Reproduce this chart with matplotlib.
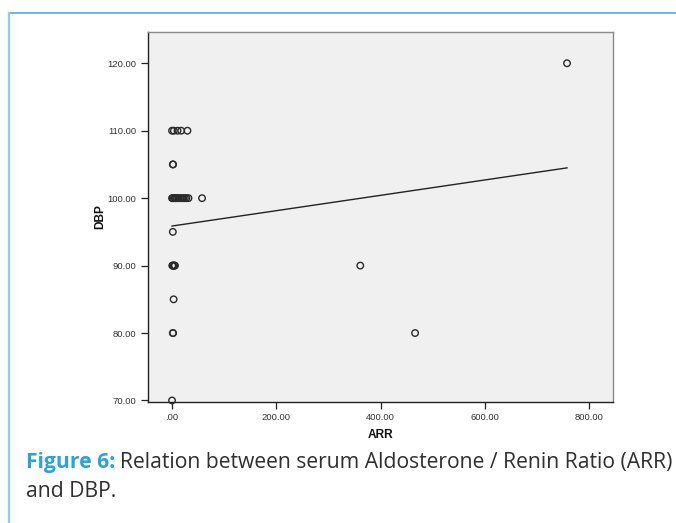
import numpy as np
import matplotlib
matplotlib.use('Agg')
import matplotlib.pyplot as plt
from matplotlib.lines import Line2D

# values (ARR vs DBP)
arr = [757,
       0.5, 4, 11, 18, 30,
       2, 2.5,
       0.5, 2, 4, 6, 8, 10, 13, 16, 19, 22, 25, 28, 32, 58,
       2,
       1, 2, 3, 4, 5, 6, 361,
       3.5,
       2, 2.5, 466,
       0.5]
dbp = [120,
       110, 110, 110, 110, 110,
       105, 105,
       100, 100, 100, 100, 100, 100, 100, 100, 100, 100, 100, 100, 100, 100,
       95,
       90, 90, 90, 90, 90, 90, 90,
       85,
       80, 80, 80,
       70]

# fit line as drawn in the figure
fit_intercept = 95.86
fit_slope = 0.0114

xticks = [0, 200, 400, 600, 800]
xtick_labels = ['.00', '200.00', '400.00', '600.00', '800.00']
yticks = [70, 80, 90, 100, 110, 120]
ytick_labels = ['70.00', '80.00', '90.00', '100.00', '110.00', '120.00']

W, H = 676, 523
fig = plt.figure(figsize=(W / 100, H / 100), dpi=100)
fig.patch.set_facecolor('white')

# plot area in pixel terms
left, right, top, bottom = 147.5, 612.7, 31.9, 401.5
ax = fig.add_axes([left / W, 1 - bottom / H, (right - left) / W, (bottom - top) / H])
ax.set_facecolor('#f0f0f0')

ax.scatter(arr, dbp, s=22, facecolors='none', edgecolors='#2a2a2a', linewidths=1.0, zorder=3, clip_on=False)

xs = np.array([min(arr), max(arr)])
ax.plot(xs, fit_intercept + fit_slope * xs, color='#222222', lw=1.0, zorder=2)

ax.set_xlim(-46.5, 844.5)
ax.set_ylim(69.85, 124.65)
ax.set_xticks(xticks)
ax.set_xticklabels(xtick_labels)
ax.set_yticks(yticks)
ax.set_yticklabels(ytick_labels)
ax.tick_params(axis='both', labelsize=6.8, length=5, width=0.9, color='#222222', labelcolor='#333333', pad=3)
for lab in ax.get_xticklabels() + ax.get_yticklabels():
    lab.set_family('Liberation Sans')

for s in ['left', 'bottom']:
    ax.spines[s].set_color('#222222')
    ax.spines[s].set_linewidth(1.0)
for s in ['top', 'right']:
    ax.spines[s].set_color('#8a8a8a')
    ax.spines[s].set_linewidth(1.0)

ax.set_xlabel('ARR', fontsize=8.6, fontweight='bold', family='Liberation Sans', labelpad=5, color='#111111')
ax.set_ylabel('DBP', fontsize=8.6, fontweight='bold', family='Liberation Sans', labelpad=1, color='#111111')

# blue frame of the figure box
fig.add_artist(Line2D([8.6 / W, 1], [1 - 12.5 / H, 1 - 12.5 / H], transform=fig.transFigure, color='#5eb3de', lw=1.3))
fig.add_artist(Line2D([8.6 / W, 8.6 / W], [0, 1 - 12.5 / H], transform=fig.transFigure, color='#8ed0ec', lw=1.6))

# caption
cap_font = 'Open Sans'
cap_size = 15.2
t1 = fig.text(26 / W, 1 - 468 / H, 'Figure 6:', fontsize=cap_size, fontweight='bold', family=cap_font,
              color='#2aa2dc', va='baseline', ha='left')
fig.canvas.draw()
bb = t1.get_window_extent()
fig.text(bb.x1 / W + 5 / W, 1 - 468 / H, 'Relation between serum Aldosterone / Renin Ratio (ARR)',
         fontsize=cap_size, family=cap_font, color='#2f2f2f', va='baseline', ha='left')
fig.text(26 / W, 1 - 497 / H, 'and DBP.', fontsize=cap_size, family=cap_font, color='#2f2f2f',
         va='baseline', ha='left')

fig.savefig('out.png', dpi=100)
